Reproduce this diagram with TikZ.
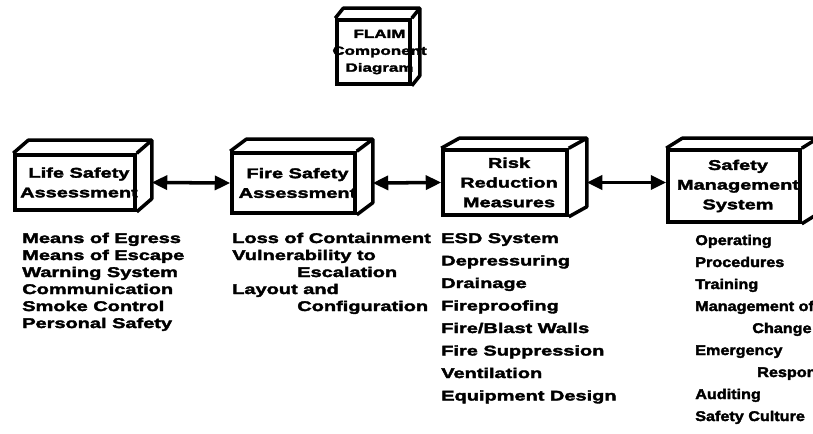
\documentclass[tikz,border=0pt]{standalone}
\usepackage{fontspec}
\setmainfont{Liberation Sans}[FakeStretch=1.42, BoldFeatures={FakeBold=2.5}]
\newfontfamily\narrowfont{Liberation Sans}[FakeStretch=1.15, BoldFeatures={FakeBold=2.5}]
\usetikzlibrary{arrows.meta,calc}

\tikzset{
  blk/.style={draw, line width=2.5pt, inner sep=0pt},
  blktxt/.style={inner sep=0pt, align=center, font=\bfseries\fontsize{10}{14}\selectfont},
  item/.style={anchor=base west, inner sep=0pt, font=\bfseries\fontsize{10}{12}\selectfont},
  link/.style={line width=2.5pt, {Triangle[length=11pt,width=10pt]}-{Triangle[length=11pt,width=10pt]}},
}

% top and side faces of a block, #1 node, (#2,#3) depth
\newcommand{\blockfaces}[3]{%
  \draw[line width=2.5pt, line join=round] (#1.north west) -- ++(#2,#3)
    -- ($(#1.north east)+(#2,#3)$) -- ($(#1.south east)+(#2,#3)$) -- (#1.south east);
  \draw[line width=2.5pt] (#1.north east) -- ++(#2,#3);
}

\begin{document}
\begin{tikzpicture}[x=0.025cm, y=-0.025cm]
	\useasboundingbox (0,0) rectangle (813,433);
	\clip (0,0) rectangle (813,433);

	% blocks
	\node[blk, minimum width=1.825cm, minimum height=1.6cm]   (flaim)  at (373.5,52) {};
	\node[blk, minimum width=3cm,     minimum height=1.375cm] (life)   at (75,182.5) {};
	\node[blk, minimum width=3.075cm, minimum height=1.5cm]   (fire)   at (293.5,183) {};
	\node[blk, minimum width=3.1cm,   minimum height=1.625cm] (risk)   at (505,182.5) {};
	\node[blk, minimum width=3.3cm,   minimum height=1.8cm]   (safety) at (734,186) {};

	\blockfaces{flaim}{8}{-10}
	\blockfaces{life}{15}{-13}
	\blockfaces{fire}{16}{-12}
	\blockfaces{risk}{18}{-10}
	\blockfaces{safety}{16}{-10}

	\node[blktxt, font=\bfseries\fontsize{8.5}{12}\selectfont] (flaim-txt) at ([xshift=0.15cm]flaim) {FLAIM\\Component\\Diagram};
	\node[blktxt] (life-txt)   at ([xshift=0.1cm]life)   {Life Safety\\Assessment};
	\node[blktxt] (fire-txt)   at ([xshift=0.1cm]fire)   {Fire Safety\\Assessment};
	\node[blktxt] (risk-txt)   at ([xshift=0.1cm]risk)   {Risk\\Reduction\\Measures};
	\node[blktxt] (safety-txt) at ([xshift=0.1cm]safety) {Safety\\Management\\System};

	% links between the blocks
	\draw[link] ($(life.east)+(15,0)$) -- (fire.west);
	\draw[link] ($(fire.east)+(16,0)$) -- (risk.west);
	\draw[link] ($(risk.east)+(18,0)$) -- (risk.east -| safety.west);

	% lists under the blocks
	\foreach \t [count=\i] in {Means of Egress, Means of Escape, Warning System,
	    Communication, Smoke Control, Personal Safety}
		\node[item] (life-\i) at (22, 243+17*\i-17) {\t};

	\foreach \x/\t [count=\i] in {232/Loss of Containment, 232/Vulnerability to,
	    297/Escalation, 232/Layout and, 297/Configuration}
		\node[item] (fire-\i) at (\x, 243+17*\i-17) {\t};

	\foreach \t [count=\i] in {ESD System, Depressuring, Drainage, Fireproofing,
	    Fire/Blast Walls, Fire Suppression, Ventilation, Equipment Design}
		\node[item] (risk-\i) at (441, 243+22.5*\i-22.5) {\t};

	\foreach \x/\t [count=\i] in {695/Operating, 695/Procedures, 695/Training,
	    695/Management of, 752/Change, 695/Emergency, 757/Response, 695/Auditing,
	    695/Safety Culture}
		\node[item, font=\narrowfont\bfseries\fontsize{10}{12}\selectfont] (safety-\i) at (\x, 245+22*\i-22) {\t};
\end{tikzpicture}
\end{document}
